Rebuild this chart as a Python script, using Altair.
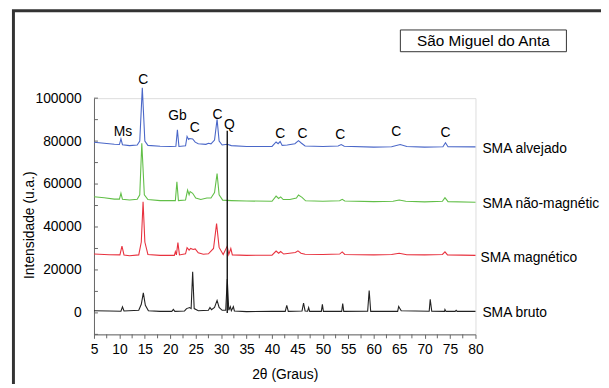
import altair as alt
import pandas as pd

# ---- data ----
alv_x = [5, 7, 9, 10.0, 10.3, 10.6, 12, 13.5, 14.0, 14.5, 15.0, 15.6, 18, 20, 21.1, 21.4, 21.7, 23.0, 23.3, 23.6, 23.8, 24.4, 24.9, 25.5, 27.0, 27.5, 28.0, 28.7, 29.2, 29.6, 30.2, 31.2, 32, 35, 40, 40.8, 41.2, 41.6, 42.0, 43.0, 44.5, 45.2, 45.8, 46.5, 50, 53.0, 53.6, 54.2, 60, 63.5, 65.2, 66.5, 70, 73.6, 74.1, 74.6, 80]
alv_y = [79500, 79000, 78500, 78400, 81000, 78300, 77900, 78200, 80000, 104800, 80000, 78000, 77600, 77500, 77600, 85300, 77500, 77800, 82200, 80800, 81200, 81000, 79500, 78800, 78500, 79000, 78700, 80500, 90200, 80000, 78200, 78500, 77900, 77500, 77500, 79600, 78800, 79800, 78000, 78200, 78800, 80200, 79000, 77700, 77500, 77700, 78400, 77600, 77200, 77400, 78400, 77500, 77200, 77400, 79200, 77400, 77300]

nmag_x = [5, 7, 9, 10.0, 10.3, 10.6, 12, 13.5, 14.0, 14.4, 14.9, 15.6, 18, 21.0, 21.3, 21.6, 23.0, 23.4, 23.7, 23.9, 24.4, 25, 26, 27.2, 28.0, 28.7, 29.2, 29.6, 30.3, 32, 35, 40, 40.8, 41.3, 41.7, 42.2, 43.5, 44.8, 45.2, 45.9, 46.6, 50, 53.3, 53.8, 54.3, 60, 63.8, 65.0, 66.3, 70, 73.5, 74.0, 74.6, 80]
nmag_y = [54100, 53600, 53000, 53000, 55700, 52900, 52600, 52900, 55000, 79000, 55000, 52800, 52300, 52300, 61000, 52300, 52600, 57200, 55000, 56500, 55700, 53500, 52800, 53500, 53500, 56000, 64900, 55000, 52500, 52300, 52100, 52000, 54400, 53300, 54000, 52800, 52800, 53500, 54900, 53800, 52200, 52000, 52200, 52900, 52100, 51800, 52000, 52600, 52000, 51700, 52000, 53700, 51800, 51500]

mag_x = [5, 8, 10.1, 10.5, 10.9, 12, 13.8, 14.3, 14.65, 15.0, 15.6, 18, 20.8, 21.0, 21.2, 21.5, 21.8, 23, 23.3, 23.7, 24.0, 24.5, 24.9, 25.5, 26.5, 27.5, 28.5, 29.1, 29.6, 30.4, 31.2, 31.5, 31.9, 32.2, 35, 40, 40.8, 41.3, 41.7, 42.3, 44.6, 45.1, 45.7, 46.5, 50, 53.3, 53.8, 54.3, 60, 63.5, 65.0, 66.5, 70, 73.5, 74.0, 74.5, 80]
mag_y = [27400, 27100, 27000, 31100, 27000, 26600, 27000, 33000, 51800, 33000, 27200, 26800, 26800, 28500, 27000, 32700, 27000, 27500, 30400, 29200, 30000, 29500, 29800, 28000, 27300, 27500, 30000, 41600, 30500, 27200, 31100, 27200, 30000, 27000, 26800, 26900, 28800, 27800, 28600, 27400, 28100, 28900, 27800, 27300, 27200, 27400, 28400, 27200, 27000, 27200, 27800, 27100, 27000, 27200, 28400, 27000, 26800]

bru_x = [5, 8, 10.3, 10.6, 10.9, 13.8, 14.3, 14.7, 15.1, 15.7, 18, 20.3, 20.6, 20.9, 22.8, 23.2, 23.8, 24.1, 24.4, 24.7, 25.5, 27.5, 27.8, 28.1, 28.7, 29.2, 29.6, 30.2, 30.9, 31.2, 31.5, 31.8, 32.0, 32.4, 32.6, 35, 40, 42.6, 42.9, 43.2, 45.9, 46.2, 46.5, 47.0, 47.2, 47.4, 49.7, 49.9, 50.1, 53.7, 53.9, 54.1, 58.8, 59.1, 59.4, 64.7, 64.9, 65.4, 70.9, 71.1, 71.4, 73.9, 74.0, 74.2, 76.0, 76.2, 76.4, 80]
bru_y = [1000, 900, 800, 2800, 900, 1200, 4000, 9300, 3500, 1000, 700, 700, 1600, 700, 900, 2000, 2500, 2000, 19100, 2000, 1000, 1200, 2500, 1500, 2500, 5800, 2500, 1200, 1200, 15800, 1200, 2900, 1000, 2900, 900, 600, 700, 700, 3500, 700, 900, 4600, 900, 800, 2500, 700, 700, 4000, 700, 700, 4300, 700, 800, 10400, 700, 700, 3000, 1000, 800, 6300, 800, 700, 1600, 700, 700, 1200, 700, 700]

series_names = ["SMA alvejado", "SMA não-magnétic", "SMA magnético", "SMA bruto"]
series_colors = ["#4a67c8", "#62bf48", "#e8323f", "#222222"]
label_y = [76500, 50800, 25500, 150]
label_dx = [7, 7, 5, 7]

q_line_x = [31.2]
q_line_y = [0]
q_line_y2 = [84800]

peak_text = ["Ms", "C", "Gb", "C", "C", "Q", "C", "C", "C", "C", "C"]
peak_x = [10.7, 14.7, 21.4, 24.8, 29.3, 31.6, 41.6, 46.0, 53.4, 64.4, 74.1]
peak_y = [84000, 108600, 91700, 85900, 92000, 87400, 83300, 83300, 83000, 84000, 83800]

x_labels = [5 + 5 * i for i in range(16)]
x_minor = [7.5 + 5 * i for i in range(15)]
y_labels = [0, 20000, 40000, 60000, 80000, 100000]
y_ticks = [-10000 + 10000 * i for i in range(12)]

title_text = "São Miguel do Anta"

FONT = "Liberation Sans"

rows = []
for name, xs, ys in [(series_names[0], alv_x, alv_y), (series_names[1], nmag_x, nmag_y),
                     (series_names[2], mag_x, mag_y), (series_names[3], bru_x, bru_y)]:
    for a, b in zip(xs, ys):
        rows.append({"s": name, "t": a, "i": b})
df = pd.DataFrame(rows)

xscale = alt.Scale(domain=[5, 80], nice=False, zero=False)
yscale = alt.Scale(domain=[-10000, 100000], nice=False, zero=False)
cscale = alt.Scale(domain=series_names, range=series_colors)

xaxis = alt.Axis(values=x_labels, format="d",
                 tickSize=4, labelFontSize=14, labelFont=FONT, labelColor="#000",
                 labelPadding=4, labelOverlap=False, labelFlush=False, grid=False,
                 domainColor="#666", tickColor="#666", title="2θ (Graus)",
                 titleFont=FONT, titleFontSize=14, titleFontWeight="normal",
                 titleColor="#000", titleY=41, titleBaseline="middle")
yaxis = alt.Axis(values=y_labels, format="d", ticks=False, labelFontSize=14, labelFont=FONT,
                 labelColor="#000", labelPadding=13, grid=False, domainColor="#666",
                 labelOverlap=False,
                 title="Intensidade (u.a.)", titleFont=FONT, titleFontSize=14,
                 titleFontWeight="normal", titleColor="#000", titleX=-65, titleY=128,
                 titleAngle=270, titleAlign="center", titleBaseline="middle")


def X(f):
    return alt.X(f, type="quantitative", scale=xscale, axis=xaxis)


def Y(f):
    return alt.Y(f, type="quantitative", scale=yscale, axis=yaxis)


colored = df[df.s != "SMA bruto"]
black = df[df.s == "SMA bruto"]

lines_col = alt.Chart(colored).mark_line(strokeWidth=1.1).encode(
    x=X("t"), y=Y("i"),
    color=alt.Color("s:N", scale=cscale, legend=None),
    detail="s:N",
)
lines_blk = alt.Chart(black).mark_line(strokeWidth=1.1).encode(
    x=X("t"), y=Y("i"),
    color=alt.Color("s:N", scale=cscale, legend=None),
)

qdf = pd.DataFrame({"t": q_line_x, "i": q_line_y, "y2": q_line_y2})
qrule = alt.Chart(qdf).mark_rule(color="#111", strokeWidth=1.4).encode(
    x=X("t"), y=Y("i"), y2="y2:Q")

ytdf = pd.DataFrame({"i": y_ticks})
yticks = alt.Chart(ytdf).mark_rule(color="#666").encode(
    y=Y("i"), x=alt.value(0), x2=alt.value(4))

xmdf = pd.DataFrame({"t": x_minor})
xminor = alt.Chart(xmdf).mark_rule(color="#666").encode(
    x=X("t"), y=alt.value(239), y2=alt.value(243))

ldf = pd.DataFrame({"s": series_names, "t": [80] * 4, "i": label_y})
labels = []
for k in range(4):
    labels.append(alt.Chart(ldf.iloc[[k]]).mark_text(
        align="left", baseline="middle", dx=label_dx[k], fontSize=14, font=FONT, color="#000"
    ).encode(x=X("t"), y=Y("i"), text="s:N"))

pdf = pd.DataFrame({"txt": peak_text, "t": peak_x, "i": peak_y})
peaks = alt.Chart(pdf).mark_text(fontSize=14, font=FONT, color="#000",
                                 baseline="middle", align="center").encode(
    x=X("t"), y=Y("i"), text="txt:N")

one = pd.DataFrame({"k": [0]})
frame = alt.Chart(one).mark_rect(fill=None, stroke="#333", strokeWidth=3).encode(
    x=alt.value(-81.5), x2=alt.value(700), y=alt.value(-88.5), y2=alt.value(400))
tbox = alt.Chart(one).mark_rect(fill="white", stroke="#333", strokeWidth=1).encode(
    x=alt.value(310), x2=alt.value(478), y=alt.value(-69), y2=alt.value(-47))
ttext = alt.Chart(pd.DataFrame({"txt": [title_text]})).mark_text(
    fontSize=15.5, font=FONT, color="#000", align="center", baseline="middle").encode(
    x=alt.value(394), y=alt.value(-58), text="txt:N")

chart = alt.layer(lines_col, lines_blk, qrule, yticks, xminor, peaks, *labels, frame, tbox, ttext).properties(
    width=386, height=239,
    padding={"left": 87, "top": 89, "right": 127, "bottom": 48},
    autosize=alt.AutoSizeParams(type="none"),
).configure_view(stroke=None).configure_axis(labelOverlap=False).configure(background="white")

chart.save("out.html", embed_options={"renderer": "svg", "actions": False})
